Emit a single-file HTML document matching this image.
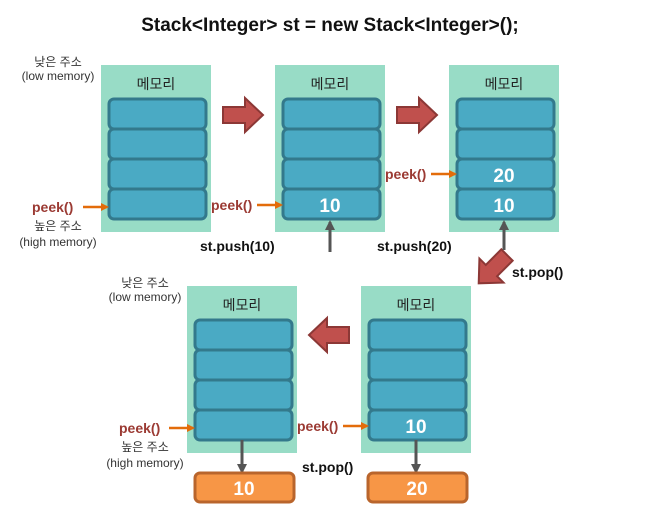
<!DOCTYPE html>
<html><head><meta charset="utf-8"><style>
html,body{margin:0;padding:0;background:#fff;}
svg{display:block;}
text{font-family:"Liberation Sans","Noto Sans CJK KR",sans-serif;}
.k{font-size:14px;fill:#222;}
.s{font-size:12px;fill:#333;}
.b{font-weight:bold;font-size:14px;fill:#111;}
.p{font-weight:bold;font-size:14px;fill:#9b3a33;}
.n{font-weight:bold;font-size:19px;fill:#fff;}
.cell{fill:#4aaac4;stroke:#33798c;stroke-width:3;}
.g{fill:#98dcc6;}
.ob{fill:#f79646;stroke:#b9652c;stroke-width:3;}
.ra{fill:#c0504d;stroke:#8c3836;stroke-width:2;}
</style></head><body>
<svg width="667" height="520" viewBox="0 0 667 520" xmlns="http://www.w3.org/2000/svg">
<defs>
<marker id="oa" markerWidth="8" markerHeight="8" refX="6" refY="4" orient="auto" markerUnits="userSpaceOnUse"><path d="M0,0 L8,4 L0,8 z" fill="#e36c0a"/></marker>
<marker id="ga" markerWidth="10" markerHeight="10" refX="8" refY="5" orient="auto" markerUnits="userSpaceOnUse"><path d="M0,0 L10,5 L0,10 z" fill="#555"/></marker>
<g id="mem">
<rect class="g" x="0" y="0" width="110" height="167"/>
<text class="k" x="55" y="24" text-anchor="middle">메모리</text>
<rect class="cell" x="8" y="34" width="97" height="30" rx="5"/>
<rect class="cell" x="8" y="64" width="97" height="30" rx="5"/>
<rect class="cell" x="8" y="94" width="97" height="30" rx="5"/>
<rect class="cell" x="8" y="124" width="97" height="30" rx="5"/>
</g>
<polygon id="ar" class="ra" points="0,-8 22,-8 22,-17 40,0 22,17 22,8 0,8"/>
</defs>

<text x="330" y="31" text-anchor="middle" style="font-weight:bold;font-size:19px;fill:#111">Stack&lt;Integer&gt; st = new Stack&lt;Integer&gt;();</text>

<use href="#mem" x="101" y="65"/>
<use href="#mem" x="275" y="65"/>
<use href="#mem" x="449" y="65"/>
<use href="#mem" x="187" y="286"/>
<use href="#mem" x="361" y="286"/>

<text class="n" x="330" y="212" text-anchor="middle">10</text>
<text class="n" x="504" y="182" text-anchor="middle">20</text>
<text class="n" x="504" y="212" text-anchor="middle">10</text>
<text class="n" x="416" y="433" text-anchor="middle">10</text>

<use href="#ar" x="223" y="115"/>
<use href="#ar" x="397" y="115"/>
<use href="#ar" transform="translate(349,335) rotate(180)"/>
<use href="#ar" transform="translate(507,255) rotate(135)"/>

<text class="s" x="58" y="66" text-anchor="middle">낮은 주소</text>
<text class="s" x="58" y="80" text-anchor="middle">(low memory)</text>
<text class="s" x="58" y="230" text-anchor="middle">높은 주소</text>
<text class="s" x="58" y="246" text-anchor="middle">(high memory)</text>
<text class="s" x="145" y="287" text-anchor="middle">낮은 주소</text>
<text class="s" x="145" y="301" text-anchor="middle">(low memory)</text>
<text class="s" x="145" y="451" text-anchor="middle">높은 주소</text>
<text class="s" x="145" y="467" text-anchor="middle">(high memory)</text>

<text class="p" x="32" y="212">peek()</text>
<line x1="83" y1="207" x2="107" y2="207" stroke="#e36c0a" stroke-width="2.5" marker-end="url(#oa)"/>
<text class="p" x="211" y="210">peek()</text>
<line x1="257" y1="205" x2="281" y2="205" stroke="#e36c0a" stroke-width="2.5" marker-end="url(#oa)"/>
<text class="p" x="385" y="179">peek()</text>
<line x1="431" y1="174" x2="455" y2="174" stroke="#e36c0a" stroke-width="2.5" marker-end="url(#oa)"/>
<text class="p" x="119" y="433">peek()</text>
<line x1="169" y1="428" x2="193" y2="428" stroke="#e36c0a" stroke-width="2.5" marker-end="url(#oa)"/>
<text class="p" x="297" y="431">peek()</text>
<line x1="343" y1="426" x2="367" y2="426" stroke="#e36c0a" stroke-width="2.5" marker-end="url(#oa)"/>

<line x1="330" y1="252" x2="330" y2="222" stroke="#555" stroke-width="3" marker-end="url(#ga)"/>
<line x1="504" y1="250" x2="504" y2="222" stroke="#555" stroke-width="3" marker-end="url(#ga)"/>
<line x1="242" y1="440" x2="242" y2="472" stroke="#555" stroke-width="3" marker-end="url(#ga)"/>
<line x1="416" y1="440" x2="416" y2="472" stroke="#555" stroke-width="3" marker-end="url(#ga)"/>

<text class="b" x="200" y="251">st.push(10)</text>
<text class="b" x="377" y="251">st.push(20)</text>
<text class="b" x="512" y="277">st.pop()</text>
<text class="b" x="302" y="472">st.pop()</text>

<rect class="ob" x="195" y="473" width="99" height="29" rx="5"/>
<rect class="ob" x="368" y="473" width="99" height="29" rx="5"/>
<text class="n" x="244" y="495" text-anchor="middle">10</text>
<text class="n" x="417" y="495" text-anchor="middle">20</text>
</svg>
</body></html>
